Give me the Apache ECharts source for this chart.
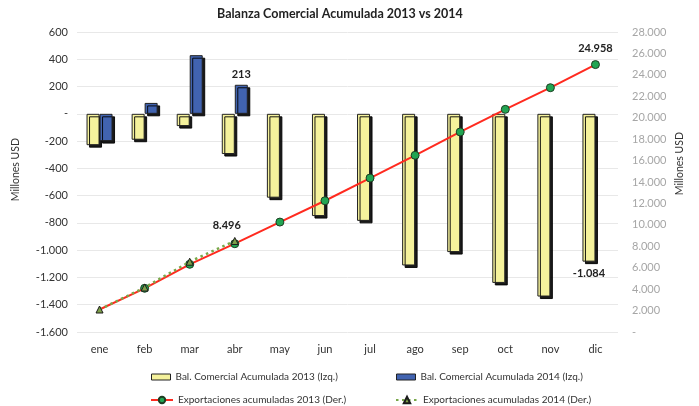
<!DOCTYPE html>
<html>
<head>
<meta charset="utf-8">
<script src="https://cdn.jsdelivr.net/npm/echarts@6/dist/echarts.min.js"></script>
<style>
  html, body { margin: 0; padding: 0; background: #fff; }
  #chart { width: 699px; height: 406px; }
</style>
</head>
<body>
<div id="chart"></div>
<script>
// datos
var meses = ['ene', 'feb', 'mar', 'abr', 'may', 'jun', 'jul', 'ago', 'sep', 'oct', 'nov', 'dic'];
var balanza2013 = [-230, -190, -90, -295, -615, -750, -785, -1112, -1014, -1240, -1340, -1084];
var balanza2014 = [-200, 80, 430, 213, '-', '-', '-', '-', '-', '-', '-', '-'];
var export2013 = [2100, 4080, 6320, 8240, 10260, 12250, 14370, 16490, 18670, 20780, 22800, 24958];
var export2014 = [2100, 4150, 6560, 8496, '-', '-', '-', '-', '-', '-', '-', '-'];

var FONT = 'Lato, "Noto Sans", sans-serif';

// separador de miles con punto
function fmt(v) {
  if (v === 0) return '-';
  var s = String(Math.abs(v)).replace(/\B(?=(\d{3})+(?!\d))/g, '.');
  return (v < 0 ? '-' : '') + s;
}

(function() {
  var myChart = echarts.init(document.getElementById('chart'));

  var barShadow = {
    borderColor: '#222',
    borderWidth: 1,
    shadowColor: 'rgba(0, 0, 0, 0.9)',
    shadowBlur: 0,
    shadowOffsetX: 2.5,
    shadowOffsetY: 2.5
  };

  // la primera marca de 2013 queda tapada por el triangulo de 2014
  var exp2013Data = export2013.map(function (v, i) {
    return i === 0 ? { value: v, symbol: 'none' } : v;
  });

  var legendText = { fontFamily: FONT, fontSize: 10, color: '#333' };
  var flatIcon = function (color) {
    return { color: color, borderColor: '#222', borderWidth: 1, shadowBlur: 0, shadowOffsetX: 0, shadowOffsetY: 0, shadowColor: 'rgba(0,0,0,0)' };
  };

  var option = {
    animation: false,
    title: {
      text: 'Balanza Comercial Acumulada 2013 vs 2014',
      left: 212,
      top: 2,
      textStyle: { fontFamily: FONT, fontSize: 12.5, fontWeight: 'bold', color: '#222' }
    },
    legend: [
      { data: [{ name: 'Bal. Comercial Acumulada 2013 (Izq.)', icon: 'rect', itemStyle: flatIcon('#f5f29c') }], left: 146, top: 367, itemWidth: 19, itemHeight: 6, itemGap: 3, textStyle: legendText },
      { data: [{ name: 'Bal. Comercial Acumulada 2014 (Izq.)', icon: 'rect', itemStyle: flatIcon('#4163b0') }], left: 391, top: 367, itemWidth: 19, itemHeight: 6, itemGap: 3, textStyle: legendText },
      { data: ['Exportaciones acumuladas 2013 (Der.)'], left: 145, top: 390, itemWidth: 22, itemHeight: 8, itemGap: 2, textStyle: legendText },
      { data: ['Exportaciones acumuladas 2014 (Der.)'], left: 390, top: 390, itemWidth: 22, itemHeight: 8, itemGap: 3, textStyle: legendText }
    ],
    grid: {
      left: 77,
      right: 81,
      top: 32,
      bottom: 74
    },
    graphic: [
      {
        type: 'text', left: 10, top: 138, rotation: Math.PI / 2,
        style: { text: 'Millones USD', fontFamily: FONT, fontSize: 10.5, fill: '#333' }
      },
      {
        type: 'text', left: 674, top: 132, rotation: Math.PI / 2,
        style: { text: 'Millones USD', fontFamily: FONT, fontSize: 10.5, fill: '#333' }
      }
    ],
    xAxis: {
      type: 'category',
      data: meses,
      axisLine: { show: false, onZero: false },
      axisTick: { show: false },
      axisLabel: { color: '#333', fontFamily: FONT, fontSize: 11, margin: 12 }
    },
    yAxis: [
      {
        type: 'value',
        min: -1600,
        max: 600,
        interval: 200,
        axisLine: { show: false },
        axisTick: { show: false },
        axisLabel: { color: '#333', fontFamily: FONT, fontSize: 11, margin: 9, formatter: fmt },
        splitLine: { lineStyle: { color: '#e8e8e8', width: 1 } }
      },
      {
        type: 'value',
        min: 0,
        max: 28000,
        interval: 2000,
        axisLine: { show: false },
        axisTick: { show: false },
        axisLabel: { color: '#a6a6a6', fontFamily: FONT, fontSize: 11, margin: 14, formatter: fmt },
        splitLine: { show: false }
      }
    ],
    series: [
      {
        name: 'Bal. Comercial Acumulada 2013 (Izq.)',
        type: 'bar',
        data: balanza2013,
        barWidth: 13,
        barGap: '0%',
        itemStyle: Object.assign({ color: '#f5f29c' }, barShadow),
        label: {
          show: true,
          position: 'bottom',
          distance: 6,
          fontFamily: FONT,
          fontSize: 11,
          fontWeight: 'bold',
          color: '#222',
          formatter: function (p) { return p.dataIndex === 11 ? fmt(p.value) : ''; }
        }
      },
      {
        name: 'Bal. Comercial Acumulada 2014 (Izq.)',
        type: 'bar',
        data: balanza2014,
        barWidth: 13,
        itemStyle: Object.assign({ color: '#4163b0' }, barShadow),
        label: {
          show: true,
          position: 'top',
          distance: 5,
          fontFamily: FONT,
          fontSize: 11,
          fontWeight: 'bold',
          color: '#222',
          formatter: function (p) { return p.dataIndex === 3 ? fmt(p.value) : ''; }
        }
      },
      {
        name: 'Exportaciones acumuladas 2013 (Der.)',
        type: 'line',
        yAxisIndex: 1,
        data: exp2013Data,
        symbol: 'circle',
        symbolSize: 8,
        z: 3,
        lineStyle: { color: '#ff2a1f', width: 2 },
        itemStyle: { color: '#22a552', borderColor: '#1d3d22', borderWidth: 1 },
        label: {
          show: true,
          position: 'top',
          distance: 6,
          fontFamily: FONT,
          fontSize: 11,
          fontWeight: 'bold',
          color: '#222',
          formatter: function (p) { return p.dataIndex === 11 ? fmt(p.value) : ''; }
        }
      },
      {
        name: 'Exportaciones acumuladas 2014 (Der.)',
        type: 'line',
        yAxisIndex: 1,
        data: export2014,
        symbol: 'triangle',
        symbolSize: 7,
        z: 4,
        lineStyle: { color: '#78a84a', width: 2.5, type: [2.5, 3.5] },
        itemStyle: { color: '#7ea04a', borderColor: '#1b1b1b', borderWidth: 1 },
        label: {
          show: true,
          position: 'top',
          distance: 6,
          offset: [-8, 0],
          fontFamily: FONT,
          fontSize: 11,
          fontWeight: 'bold',
          color: '#222',
          formatter: function (p) { return p.dataIndex === 3 ? fmt(p.value) : ''; }
        }
      }
    ]
  };

  myChart.setOption(option);
  window.addEventListener('resize', function () {
    myChart.resize();
  });
})();
</script>
</body>
</html>
